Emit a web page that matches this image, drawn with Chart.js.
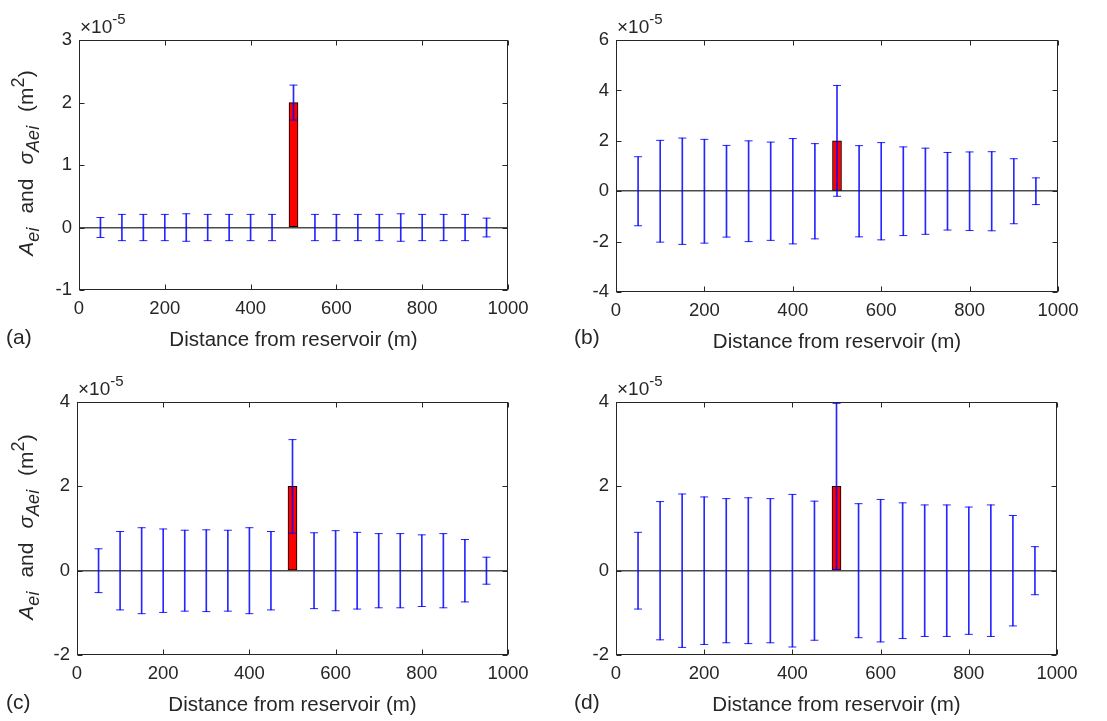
<!DOCTYPE html>
<html>
<head>
<meta charset="utf-8">
<script src="https://cdn.jsdelivr.net/npm/chart.js@4.4.1/dist/chart.umd.min.js"></script>
<style>
  body { margin: 0; background: #fff; font-family: "Liberation Sans", Arial, sans-serif; color: #262626; }
  #fig { position: relative; width: 1107px; height: 721px; overflow: hidden; }
  .panel { position: absolute; }
  .ylab { position: absolute; font-size: 21px; white-space: nowrap; transform: translate(-50%, -50%) rotate(-90deg); }
  .ylab sub { font-size: 18px; vertical-align: -6px; }
  .ylab sup { font-size: 18px; vertical-align: 9px; }
  .gap { display: inline-block; width: 14px; }
  .expo { position: absolute; font-size: 19px; white-space: nowrap; }
  .expo sup { font-size: 15px; vertical-align: 9px; }
  .tag { position: absolute; font-size: 21px; }
</style>
</head>
<body>
<div id="fig">
  <div class="panel" id="pa"><canvas id="ca"></canvas></div>
  <div class="panel" id="pb"><canvas id="cb"></canvas></div>
  <div class="panel" id="pc"><canvas id="cc"></canvas></div>
  <div class="panel" id="pd"><canvas id="cd"></canvas></div>

  <div class="ylab" style="left:26px; top:163px;"><i>A</i><sub><i>ei</i></sub><span class="gap"></span>and<span class="gap"></span><i>&sigma;</i><sub><i>Aei</i></sub><span class="gap"></span>(m<sup>2</sup>)</div>
  <div class="ylab" style="left:26px; top:527px;"><i>A</i><sub><i>ei</i></sub><span class="gap"></span>and<span class="gap"></span><i>&sigma;</i><sub><i>Aei</i></sub><span class="gap"></span>(m<sup>2</sup>)</div>

  <div class="expo" style="left:80px; top:10px;">&times;10<sup>-5</sup></div>
  <div class="expo" style="left:617px; top:10px;">&times;10<sup>-5</sup></div>
  <div class="expo" style="left:78px; top:372px;">&times;10<sup>-5</sup></div>
  <div class="expo" style="left:617px; top:372px;">&times;10<sup>-5</sup></div>

  <div class="tag" style="left:6px; top:325px;">(a)</div>
  <div class="tag" style="left:574px; top:325px;">(b)</div>
  <div class="tag" style="left:6px; top:690px;">(c)</div>
  <div class="tag" style="left:574px; top:690px;">(d)</div>
</div>

<script>
// distance from reservoir (m)
const distances = [50, 100, 150, 200, 250, 300, 350, 400, 450, 500, 550, 600, 650, 700, 750, 800, 850, 900, 950];

// A_ei, in units of 1e-5 m^2 (same in all four panels)
const areaValues = [0, 0, 0, 0, 0, 0, 0, 0, 0, 2, 0, 0, 0, 0, 0, 0, 0, 0, 0];

// sigma_Aei, in units of 1e-5 m^2
const sigmaA = [0.16, 0.21, 0.21, 0.21, 0.22, 0.21, 0.21, 0.21, 0.21, 0.28, 0.21, 0.21, 0.21, 0.21, 0.22, 0.21, 0.21, 0.21, 0.15];
const sigmaB = [1.37, 2.02, 2.11, 2.06, 1.82, 2.00, 1.95, 2.09, 1.89, 2.20, 1.81, 1.93, 1.76, 1.71, 1.54, 1.56, 1.57, 1.29, 0.53];
const sigmaC = [0.52, 0.93, 1.02, 0.99, 0.96, 0.97, 0.96, 1.02, 0.93, 1.11, 0.90, 0.95, 0.91, 0.88, 0.88, 0.85, 0.88, 0.74, 0.32];
const sigmaD = [0.91, 1.64, 1.82, 1.75, 1.71, 1.73, 1.71, 1.81, 1.65, 1.97, 1.59, 1.69, 1.61, 1.56, 1.56, 1.51, 1.56, 1.31, 0.57];

// y axis ranges / steps per panel
const yRangeA = [-1, 3, 1];
const yRangeB = [-4, 6, 2];
const yRangeC = [-2, 4, 2];
const yRangeD = [-2, 4, 2];

const xTitle = "Distance from reservoir (m)";

document.addEventListener("DOMContentLoaded", () => {
  const textColor = "#262626";
  const fontFamily = "'Liberation Sans', Arial, sans-serif";

  // frame + inward tick marks like matlab
  const boxPlugin = {
    id: "box",
    afterDatasetsDraw(chart) {
      const { ctx, chartArea: a, scales: { x, y } } = chart;
      const l = Math.round(a.left) + 0.5, r = Math.round(a.right) - 0.5;
      const t = Math.round(a.top) + 0.5, b = Math.round(a.bottom) - 0.5;
      ctx.save();
      ctx.strokeStyle = textColor;
      ctx.lineWidth = 1;
      ctx.beginPath();
      x.ticks.forEach(tk => {
        const px = Math.round(x.getPixelForValue(tk.value)) + 0.5;
        ctx.moveTo(px, b); ctx.lineTo(px, b - 5);
        ctx.moveTo(px, t); ctx.lineTo(px, t + 5);
      });
      y.ticks.forEach(tk => {
        const py = Math.round(y.getPixelForValue(tk.value)) + 0.5;
        ctx.moveTo(l, py); ctx.lineTo(l + 5, py);
        ctx.moveTo(r, py); ctx.lineTo(r - 5, py);
      });
      ctx.stroke();
      ctx.strokeRect(l, t, r - l, b - t);
      ctx.restore();
    }
  };

  const makePanel = (canvasId, divId, area, sigma, yRange) => {
    // area = plot box [left, top, width, height] in page pixels
    const [L, T, W, H] = area;
    const div = document.getElementById(divId);
    const padLeft = 60, padTop = 15, padRight = 30, padBottom = 63;
    div.style.left = (L - padLeft) + "px";
    div.style.top = (T - padTop) + "px";
    div.style.width = (W + padLeft + padRight) + "px";
    div.style.height = (H + padTop + padBottom) + "px";

    const stems = distances.map((d, i) => ({ x: d, y: [areaValues[i] - sigma[i], areaValues[i] + sigma[i]] }));
    const caps = [];
    distances.forEach((d, i) => {
      caps.push({ x: d, y: areaValues[i] - sigma[i] });
      caps.push({ x: d, y: areaValues[i] + sigma[i] });
    });

    new Chart(document.getElementById(canvasId), {
      type: "bar",
      data: {
        datasets: [
          {
            type: "bar",
            data: distances.map((d, i) => ({ x: d, y: areaValues[i] })),
            backgroundColor: "#ff0000",
            borderColor: "#000000",
            borderWidth: 1,
            borderSkipped: false,
            barThickness: 9,
            grouped: false,
            order: 3
          },
          {
            type: "bar",
            data: stems,
            backgroundColor: "rgba(0,0,255,0.85)",
            borderWidth: 0,
            barThickness: 1,
            grouped: false,
            order: 1
          },
          {
            type: "scatter",
            data: caps,
            pointStyle: "line",
            pointRadius: 4,
            borderColor: "rgba(0,0,255,0.85)",
            borderWidth: 1,
            order: 0
          }
        ]
      },
      options: {
        responsive: true,
        maintainAspectRatio: false,
        animation: false,
        layout: { padding: { left: 0, top: padTop, right: padRight, bottom: 0 } },
        plugins: { legend: { display: false }, tooltip: { enabled: false } },
        scales: {
          x: {
            type: "linear",
            min: 0,
            max: 1000,
            offset: false,
            grid: { display: false, drawTicks: false },
            border: { display: false },
            ticks: { stepSize: 200, padding: 8, color: textColor, font: { family: fontFamily, size: 18.5 }, maxRotation: 0, callback: v => String(v) },
            title: { display: true, text: xTitle, color: textColor, font: { family: fontFamily, size: 20.5 }, padding: 0 },
            afterFit: s => { s.height = padBottom; }
          },
          y: {
            min: yRange[0],
            max: yRange[1],
            grid: {
              drawTicks: false,
              color: c => c.tick && c.tick.value === 0 ? "rgba(30,30,30,0.8)" : "rgba(0,0,0,0)",
              lineWidth: 1.5
            },
            border: { display: false },
            ticks: { stepSize: yRange[2], padding: 7, color: textColor, font: { family: fontFamily, size: 18.5 }, callback: v => String(v) },
            afterFit: s => { s.width = padLeft; }
          }
        }
      },
      plugins: [boxPlugin]
    });
  };

  makePanel("ca", "pa", [79, 37, 429, 253], sigmaA, yRangeA);
  makePanel("cb", "pb", [616, 37, 442, 255], sigmaB, yRangeB);
  makePanel("cc", "pc", [77, 399, 431, 256], sigmaC, yRangeC);
  makePanel("cd", "pd", [616, 399, 441, 256], sigmaD, yRangeD);
});
</script>
</body>
</html>
